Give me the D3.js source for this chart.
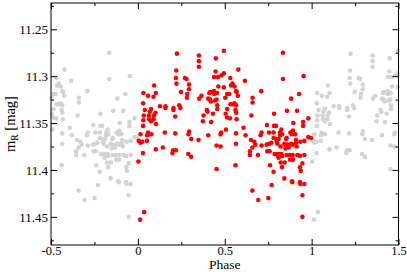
<!DOCTYPE html>
<html><head><meta charset="utf-8">
<script src="https://cdn.jsdelivr.net/npm/d3@7"></script>
<style>body{margin:0;background:#fff}svg{display:block}text{font-family:"Liberation Serif","Times New Roman",serif}</style>
</head><body><svg id="c" width="407" height="272"></svg>
<script>
// Phase (0..1) and magnitude of measured points (red)
const phase = [
0.2245,0.2205,0.219,0.271,0.280,0.222,0.094,0.295,0.294,0.032,0.103,0.059,0.090,0.248,0.284,0.282,0.030,0.127,0.159,0.159,
0.205,0.205,0.238,0.245,0.040,0.076,0.069,0.101,0.034,0.032,0.063,0.065,0.092,0.090,0.215,0.076,0.030,0.105,
0.015,0.059,0.067,0.078,0.053,0.155,0.215,0.291,0.295,0.005,0.015,0.026,0.052,0.307,0.144,0.103,0.203,0.219,0.199,0.029,
0.290,0.307,0.003,0.036,0.013,
0.495,0.351,0.351,0.351,0.449,0.578,0.447,0.495,0.482,0.439,0.461,0.532,0.616,0.463,0.495,0.536,0.545,0.556,0.566,0.568,
0.416,0.411,0.438,0.439,0.455,0.514,0.526,0.576,0.366,0.353,0.503,0.405,0.415,0.420,0.445,0.453,0.660,0.660,0.533,0.545,
0.556,0.565,0.457,0.514,0.457,0.397,0.401,0.432,0.562,0.566,0.505,0.378,0.513,0.530,0.653,0.568,0.374,0.422,0.608,
0.507,0.480,0.476,0.565,0.620,0.405,0.349,0.651,0.565,0.453,0.476,0.659,0.645,0.645,0.562,0.453,0.659,
0.835,0.954,0.835,0.710,0.928,0.882,0.858,0.916,0.784,0.981,0.951,0.895,0.743,0.784,0.795,0.951,0.826,
0.712,0.706,0.755,0.781,0.818,0.830,0.818,0.878,0.893,0.887,0.906,0.981,0.997,0.856,0.853,0.781,0.797,0.810,0.910,0.935,
0.958,0.676,0.670,0.712,0.741,0.756,0.768,0.799,0.803,0.843,0.862,0.882,0.891,0.910,0.822,0.849,0.868,0.914,0.745,0.758,
0.691,0.803,0.814,0.826,0.807,0.818,0.830,0.810,0.787,0.856,0.872,0.891,0.918,0.933,0.958,0.876,0.893,0.822,0.845,0.761,
0.830,0.947,0.933,0.937,0.781,0.843,0.887,0.889,0.933,0.935,0.958,0.770,0.947,0.693,0.751,0.947
];
const mag = [
11.276,11.294,11.302,11.302,11.303,11.308,11.310,11.309,11.314,11.318,11.318,11.321,11.322,11.317,11.319,11.323,11.329,11.332,11.332,11.334,
11.334,11.336,11.331,11.334,11.336,11.335,11.338,11.339,11.342,11.347,11.342,11.346,11.342,11.346,11.343,11.348,11.353,11.351,
11.362,11.360,11.362,11.362,11.363,11.360,11.361,11.362,11.359,11.369,11.371,11.370,11.369,11.367,11.376,11.378,11.379,11.379,11.382,11.382,
11.383,11.386,11.391,11.445,11.453,
11.273,11.278,11.284,11.290,11.281,11.293,11.295,11.297,11.299,11.301,11.301,11.302,11.305,11.311,11.312,11.310,11.308,11.311,11.316,11.317,
11.317,11.318,11.316,11.319,11.318,11.319,11.319,11.321,11.321,11.324,11.323,11.324,11.325,11.327,11.326,11.325,11.323,11.328,11.330,11.330,
11.329,11.331,11.331,11.335,11.335,11.336,11.338,11.340,11.336,11.339,11.340,11.342,11.344,11.345,11.342,11.346,11.348,11.349,11.355,
11.357,11.360,11.362,11.361,11.363,11.363,11.368,11.368,11.372,11.374,11.375,11.376,11.380,11.384,11.395,11.399,11.422,
11.275,11.300,11.303,11.316,11.319,11.324,11.337,11.337,11.340,11.345,11.349,11.350,11.352,11.353,11.353,11.353,11.357,
11.360,11.363,11.360,11.360,11.360,11.362,11.363,11.360,11.358,11.362,11.362,11.365,11.366,11.366,11.367,11.366,11.367,11.367,11.368,11.370,
11.369,11.373,11.370,11.374,11.373,11.372,11.371,11.370,11.372,11.372,11.373,11.372,11.373,11.371,11.375,11.377,11.376,11.375,11.380,11.380,
11.384,11.383,11.383,11.383,11.385,11.385,11.385,11.387,11.383,11.384,11.384,11.384,11.384,11.385,11.384,11.389,11.389,11.392,11.392,11.395,
11.397,11.393,11.397,11.401,11.402,11.409,11.412,11.413,11.413,11.415,11.415,11.416,11.427,11.432,11.430,11.450
];
const xTickValues = [-0.5, 0, 0.5, 1, 1.5];
const xTickLabels = ["-0.5", "0", "0.5", "1", "1.5"];
const xMinorValues = [-0.25, 0.25, 0.75, 1.25];
const yTickValues = [11.25, 11.3, 11.35, 11.4, 11.45];
const yTickLabels = ["11.25", "11.3", "11.35", "11.4", "11.45"];
const yMinorValues = [11.225, 11.275, 11.325, 11.375, 11.425, 11.475];
const xDomain = [-0.5, 1.5];
const yDomain = [11.222, 11.48];

const L = 51, R = 398.5, T = 3, B = 245;
const svg = d3.select("#c");
const x = d3.scaleLinear().domain(xDomain).range([L, R]);
const y = d3.scaleLinear().domain(yDomain).range([T, B]);

const red = phase.map((p, i) => ({p, m: mag[i]}));
const grey = red.map(d => ({p: d.p >= 0.5 ? d.p - 1 : d.p + 1, m: d.m}))
  .filter(d => d.p >= xDomain[0] && d.p <= xDomain[1]);

svg.append("g").selectAll("circle").data(grey).join("circle")
  .attr("cx", d => x(d.p)).attr("cy", d => y(d.m)).attr("r", 2.3).attr("fill", "#d3d3d3");
svg.append("g").selectAll("circle").data(red).join("circle")
  .attr("cx", d => x(d.p)).attr("cy", d => y(d.m)).attr("r", 2.3).attr("fill", "#ff0000");

function styleAxis(g, fs){ g.select(".domain").remove(); g.selectAll("line").attr("stroke","#000"); g.selectAll("text").attr("font-size",fs||13).attr("fill","#000"); }

svg.append("g").attr("transform",`translate(0,${B})`)
  .call(d3.axisBottom(x).tickValues(xTickValues).tickSize(-6).tickPadding(1).tickFormat((d,i)=>xTickLabels[i])).call(styleAxis, 12.5);
svg.append("g").attr("transform",`translate(0,${B})`)
  .call(d3.axisBottom(x).tickValues(xMinorValues).tickSize(-3).tickFormat("")).call(styleAxis);
svg.append("g").attr("transform",`translate(0,${T})`)
  .call(d3.axisTop(x).tickValues(xTickValues).tickSize(-6).tickFormat("")).call(styleAxis);
svg.append("g").attr("transform",`translate(0,${T})`)
  .call(d3.axisTop(x).tickValues(xMinorValues).tickSize(-3).tickFormat("")).call(styleAxis);
svg.append("g").attr("transform",`translate(${L},0)`)
  .call(d3.axisLeft(y).tickValues(yTickValues).tickSize(-6).tickPadding(3).tickFormat((d,i)=>yTickLabels[i])).call(styleAxis, 13);
svg.append("g").attr("transform",`translate(${L},0)`)
  .call(d3.axisLeft(y).tickValues(yMinorValues).tickSize(-3).tickFormat("")).call(styleAxis);
svg.append("g").attr("transform",`translate(${R},0)`)
  .call(d3.axisRight(y).tickValues(yTickValues).tickSize(-6).tickFormat("")).call(styleAxis);
svg.append("g").attr("transform",`translate(${R},0)`)
  .call(d3.axisRight(y).tickValues(yMinorValues).tickSize(-3).tickFormat("")).call(styleAxis);

svg.append("rect").attr("x",L).attr("y",T).attr("width",R-L).attr("height",B-T)
  .attr("fill","none").attr("stroke","#000").attr("stroke-width",1);

svg.append("text").attr("x",(L+R)/2).attr("y",269.3).attr("text-anchor","middle").attr("font-size",13.5).text("Phase");
const yl = svg.append("text").attr("transform",`translate(15,${(T+B)/2}) rotate(-90)`).attr("text-anchor","middle").attr("font-size",14.5);
yl.append("tspan").text("m");
yl.append("tspan").attr("font-size",9.5).attr("dy",3).text("R");
yl.append("tspan").attr("dy",-3).text(" [mag]");
</script></body></html>
